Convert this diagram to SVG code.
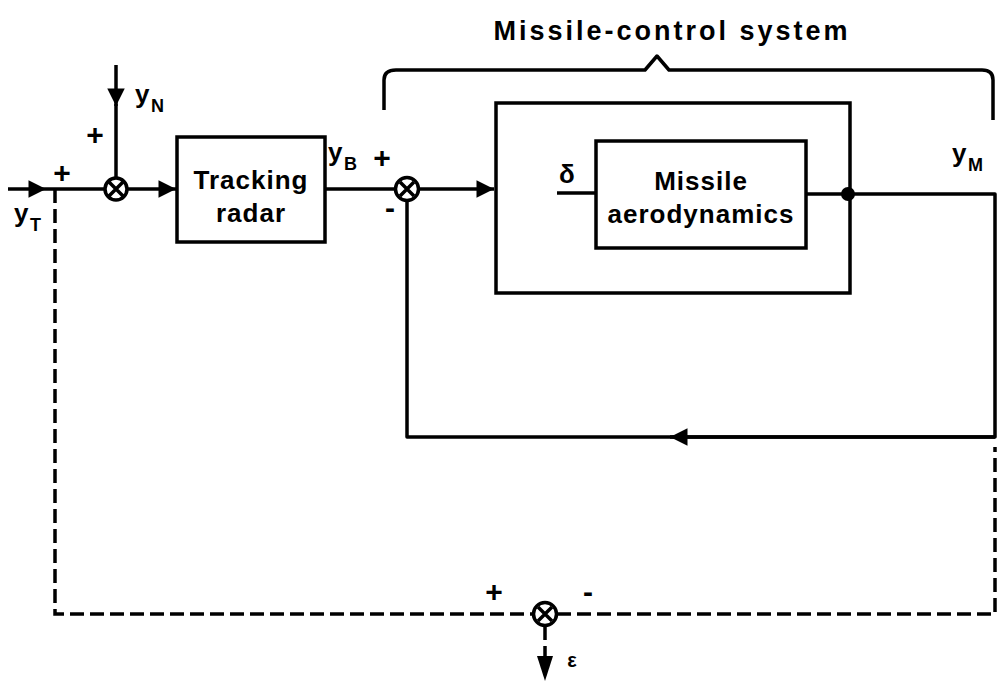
<svg xmlns="http://www.w3.org/2000/svg" width="998" height="685" viewBox="0 0 998 685">
<style>
.ln{fill:none;stroke:#000;stroke-width:3.5;stroke-linejoin:round}
.ds{fill:none;stroke:#000;stroke-width:3.5;stroke-dasharray:14,6}
.box{fill:#fff;stroke:#000;stroke-width:3.5}
.frame{fill:none;stroke:#000;stroke-width:3.5}
.sum{fill:#fff;stroke:#000;stroke-width:3.5}
.t{font-family:"Liberation Sans",Arial,sans-serif;font-weight:bold;fill:#000}
.lbl{font-size:26px;letter-spacing:1px}
.sub{font-size:18px}
.sg{font-size:30px}
</style>
<defs>
<marker id="ah" viewBox="0 0 10 10" refX="10" refY="5" markerWidth="8" markerHeight="5" markerUnits="strokeWidth" orient="auto">
<path d="M0,0 L10,5 L0,10 z" fill="#000"/>
</marker>
</defs>
<rect width="998" height="685" fill="#fff"/>
<text class="t" x="672" y="40" font-size="27" letter-spacing="3" text-anchor="middle">Missile-control system</text>
<path class="ln" d="M384,110 L384,80 Q384,70 396,70 L645,70 L657,56 L669,70 L982,70 Q993,70 993,80 L993,120"/>
<g id="radar">
<rect class="box" x="177" y="137" width="148" height="105"/>
<text class="t lbl" x="251" y="189" text-anchor="middle">Tracking</text>
<text class="t lbl" x="251" y="222" text-anchor="middle">radar</text>
</g>
<g id="control">
<rect class="frame" x="496" y="103" width="354" height="190"/>
</g>
<g id="aero">
<rect class="box" x="596" y="141" width="210" height="107"/>
<text class="t lbl" x="701" y="190" text-anchor="middle">Missile</text>
<text class="t lbl" x="701" y="223" text-anchor="middle">aerodynamics</text>
</g>
<g id="connectors">
<path class="ln" d="M8,189 L46,189" marker-end="url(#ah)"/>
<path class="ln" d="M46,189 L105,189"/>
<path class="ln" d="M116,65 L116,106" marker-end="url(#ah)"/>
<path class="ln" d="M116,104 L116,178"/>
<path class="ln" d="M127,189 L176,189" marker-end="url(#ah)"/>
<path class="ln" d="M325,189 L396,189"/>
<path class="ln" d="M418,189 L494,189" marker-end="url(#ah)"/>
<path class="ln" d="M557,193 L596,193"/>
<path class="ln" d="M806,194 L995,194 L995,437 L407,437 L407,201"/>
<path class="ln" d="M995,437 L670,437" marker-end="url(#ah)"/>
<path class="ds" d="M55,189 L55,614 L533,614"/>
<path class="ds" d="M557,614 L995,614 L995,447"/>
<path class="ds" d="M545,626 L545,660"/>
<path d="M537,656 L553,656 L545,681 z" fill="#000"/>
<circle cx="848" cy="194" r="7" fill="#000"/>
</g>
<g id="sum1">
<circle class="sum" cx="116" cy="189" r="11"/>
<path class="ln" d="M109,182 L123,196 M123,182 L109,196" stroke-width="3"/>
</g>
<g id="sum2">
<circle class="sum" cx="407" cy="189" r="11.5"/>
<path class="ln" d="M400,182 L414,196 M414,182 L400,196" stroke-width="3"/>
</g>
<g id="sum3">
<circle class="sum" cx="545" cy="614" r="11.5"/>
<path class="ln" d="M538,607 L552,621 M552,607 L538,621" stroke-width="3"/>
</g>
<g id="labels">
<text class="t lbl" x="135" y="103">y</text><text class="t sub" x="151" y="112">N</text>
<text class="t lbl" x="14" y="222">y</text><text class="t sub" x="30" y="231">T</text>
<text class="t lbl" x="328" y="161">y</text><text class="t sub" x="344" y="170">B</text>
<text class="t lbl" x="952" y="162">y</text><text class="t sub" x="968" y="171">M</text>
<text class="t sg" x="62" y="183" text-anchor="middle">+</text>
<text class="t sg" x="95" y="145" text-anchor="middle">+</text>
<text class="t sg" x="382" y="168" text-anchor="middle">+</text>
<text class="t sg" x="390" y="218" text-anchor="middle">-</text>
<text class="t sg" x="494" y="602" text-anchor="middle">+</text>
<text class="t sg" x="588" y="602" text-anchor="middle">-</text>
<text class="t" x="567" y="183" font-size="26" text-anchor="middle">δ</text>
<text class="t" x="572" y="667" font-size="20" text-anchor="middle">ε</text>
</g>
</svg>
